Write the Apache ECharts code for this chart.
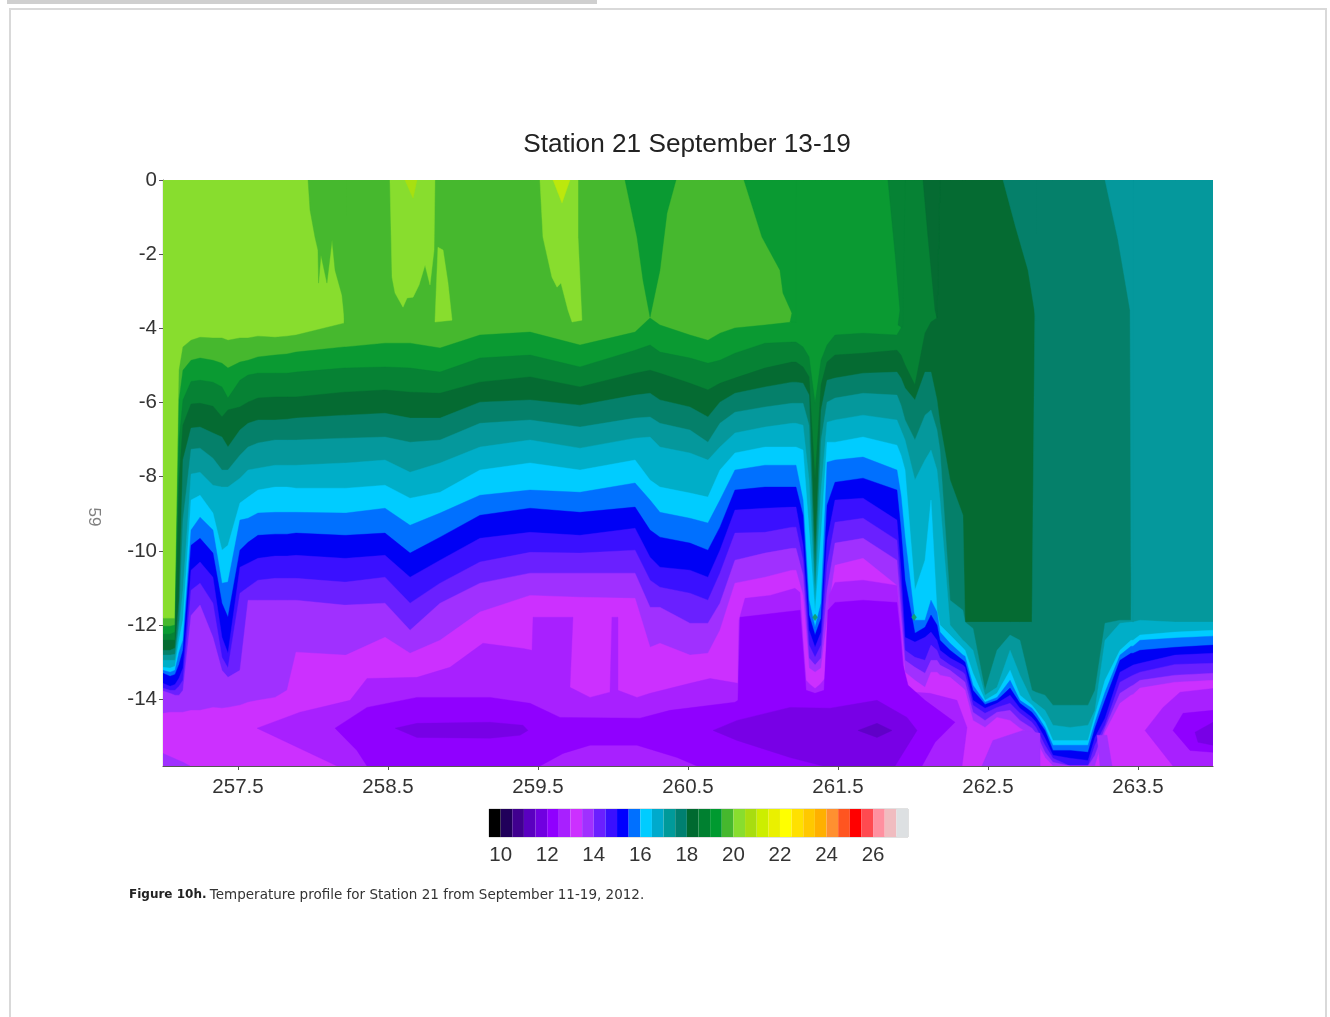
<!DOCTYPE html>
<html><head><meta charset="utf-8"><title>Station 21 temperature profile</title>
<style>html,body{margin:0;padding:0;background:#fff}#c{width:1330px;height:1017px;filter:blur(0.55px)}</style>
<script src="https://cdn.jsdelivr.net/npm/echarts@6/dist/echarts.min.js"></script>
</head><body><div id="c"></div>
<script>
const titleText = 'Station 21 September 13-19';
const xTicks = [257.5,258.5,259.5,260.5,261.5,262.5,263.5];
const yTicks = [0,-2,-4,-6,-8,-10,-12,-14];
const barTicks = [10,12,14,16,18,20,22,24,26];
const barColors = ['#000000','#20005a','#40008f','#5a00c0','#7000e0','#9000ff','#a820ff','#cc30ff','#a030ff','#6a20ff','#3a10ff','#0000ff','#0070ff','#00ccff','#00aacc','#009a9a','#008070','#006a30','#008030','#009a30','#46b82e','#88dd2e','#a8dd10','#ccee00','#eaf000','#ffff00','#ffe000','#ffc800','#ffb000','#ff9030','#ff5520','#ff0000','#ff4a50','#ff90a0','#f0bcc0','#dde0e2'];
const bandColors = {A:'#88dd2e',B:'#46b82e',C:'#0a9a32',D:'#068234',E:'#056b32',F:'#05806a',G:'#05989c',H:'#00aec8',I:'#00ccff',J:'#0070ff',K:'#0000f5',L:'#3a10ff',M:'#6a20ff',N:'#a030ff',O:'#cc30ff',P:'#a820ff',Q:'#9000ff',R:'#7800e6',S:'#6000c8'};

// Day of year stations along the time axis
const days = [257,257.047,257.08,257.107,257.133,257.187,257.247,257.333,257.393,257.433,
257.513,257.567,257.633,257.747,257.827,257.887,258.207,258.22,258.48,258.647,
258.847,259.113,259.447,259.78,260.147,260.247,260.313,260.513,260.633,260.713,
260.813,261.013,261.193,261.22,261.267,261.307,261.347,261.387,261.427,261.48,
261.667,261.893,261.92,261.947,262.013,262.08,262.12,262.16,262.18,262.247,
262.333,262.347,262.4,262.48,262.56,262.647,262.713,262.793,262.82,262.88,
262.933,263.047,263.167,263.213,263.28,263.38,263.453,263.467,263.513,263.747,264];

// Depth of the top of each colour band at every station
const topB = [-11.82,-11.82,-11.82,-5.13,-4.50,-4.32,-4.24,-4.26,-4.26,-4.32,
-4.26,-4.26,-4.21,-4.24,-4.21,-4.18,-3.86,0,0,0,
0,0,0,0,0,0,0,0,0,0,
0,0,0,0,0,0,0,0,0,0,
0,0,0,0,0,0,0,0,0,0,
0,0,0,0,0,0,0,0,0,0,
0,0,0,0,0,0,0,0,0,0,0];
const topC = [-12.03,-12.03,-12.00,-5.93,-5.13,-4.86,-4.80,-4.86,-4.94,-5.07,
-4.91,-4.86,-4.77,-4.72,-4.69,-4.64,-4.50,-4.50,-4.40,-4.40,
-4.53,-4.18,-4.10,-4.45,-4.10,-3.72,-3.91,-4.18,-4.32,-4.13,
-3.99,-3.91,-3.83,0,0,0,0,0,0,0,
0,0,0,0,0,0,0,0,0,0,
0,0,0,0,0,0,0,0,0,0,
0,0,0,0,0,0,0,0,0,0,0];
const topD = [-12.25,-12.25,-12.19,-7.01,-5.93,-5.43,-5.40,-5.45,-5.58,-5.88,
-5.40,-5.26,-5.21,-5.21,-5.21,-5.18,-5.07,-5.07,-5.04,-5.07,
-5.18,-4.80,-4.72,-5.04,-4.59,-4.45,-4.64,-4.80,-4.94,-4.86,
-4.67,-4.40,-4.37,-4.37,-4.50,-4.77,-6.02,-4.86,-4.45,-4.18,
-4.13,-4.18,-3.99,0,0,0,0,0,0,0,
0,0,0,0,0,0,0,0,0,0,
0,0,0,0,0,0,0,0,0,0,0];
const topE = [-12.41,-12.41,-12.41,-8.09,-6.61,-6.04,-6.02,-6.10,-6.39,-6.20,
-6.12,-5.99,-5.88,-5.85,-5.85,-5.85,-5.72,-5.72,-5.66,-5.72,
-5.75,-5.45,-5.31,-5.58,-5.21,-5.13,-5.21,-5.48,-5.66,-5.48,
-5.34,-5.07,-4.91,-4.91,-5.04,-5.31,-8.09,-5.53,-4.91,-4.72,
-4.67,-4.59,-4.72,-4.99,-5.53,-4.13,-3.83,-3.72,0,0,
0,0,0,0,0,0,0,0,0,0,
0,0,0,0,0,0,0,0,0,0,0];
const topF = [-12.68,-12.68,-12.62,-11.33,-7.55,-6.69,-6.66,-6.82,-6.93,-7.20,
-6.74,-6.56,-6.47,-6.47,-6.45,-6.42,-6.34,-6.34,-6.29,-6.42,
-6.42,-5.99,-5.93,-6.07,-5.80,-5.75,-5.93,-6.12,-6.39,-5.99,
-5.75,-5.58,-5.45,-5.45,-5.48,-5.80,-10.25,-6.20,-5.40,-5.34,
-5.21,-5.18,-5.34,-5.61,-5.93,-5.18,-5.18,-5.93,-6.56,-8.09,
-9.04,-11.92,-11.92,-11.92,-11.92,-11.92,-11.92,-11.92,0,0,
0,0,0,0,0,0,0,0,0,0,0];
const topG = [-12.81,-12.81,-12.79,-11.87,-9.17,-7.26,-7.23,-7.50,-7.82,-7.82,
-7.42,-7.20,-7.09,-7.01,-7.01,-7.01,-6.96,-6.96,-6.93,-7.07,
-7.01,-6.56,-6.47,-6.66,-6.42,-6.39,-6.56,-6.74,-7.07,-6.56,
-6.26,-6.12,-6.02,-6.02,-6.02,-6.61,-11.06,-7.01,-5.99,-5.88,
-5.75,-5.80,-6.07,-6.47,-7.01,-6.34,-6.20,-6.74,-7.28,-11.33,
-11.60,-11.92,-12.09,-13.76,-12.68,-12.27,-12.41,-13.76,-13.81,-13.89,
-14.16,-14.16,-14.16,-13.76,-11.95,-11.87,-11.87,0,0,0,0];
const topH = [-12.95,-12.95,-12.95,-12.09,-11.06,-7.93,-7.88,-8.23,-8.28,-8.28,
-8.04,-7.82,-7.77,-7.69,-7.69,-7.69,-7.63,-7.63,-7.55,-7.88,
-7.63,-7.20,-7.01,-7.23,-6.96,-6.93,-7.20,-7.36,-7.55,-7.20,
-6.82,-6.66,-6.56,-6.56,-6.61,-8.09,-11.33,-8.36,-6.53,-6.47,
-6.34,-6.47,-6.74,-7.01,-8.09,-7.55,-7.28,-7.82,-8.63,-12.00,
-12.41,-12.46,-12.68,-13.89,-13.68,-12.68,-13.35,-14.03,-14.11,-14.30,
-14.70,-14.76,-14.70,-14.30,-12.41,-11.95,-11.92,-11.92,-11.87,-11.92,-11.92];
const topI = [-13.14,-13.16,-13.11,-12.41,-11.87,-8.63,-8.50,-8.98,-9.98,-9.85,
-8.71,-8.55,-8.36,-8.28,-8.28,-8.31,-8.31,-8.31,-8.23,-8.58,
-8.42,-7.82,-7.63,-7.82,-7.55,-8.09,-8.28,-8.44,-8.55,-7.82,
-7.36,-7.20,-7.20,-7.20,-7.28,-9.44,-11.65,-9.58,-7.07,-7.07,
-6.93,-7.15,-7.42,-7.82,-11.06,-10.25,-8.63,-11.60,-12.00,-12.27,
-12.62,-12.68,-13.30,-14.03,-13.84,-13.22,-13.89,-14.16,-14.30,-14.62,
-15.11,-15.11,-15.11,-14.43,-13.49,-12.68,-12.41,-12.41,-12.27,-12.19,-12.14];
const topJ = [-13.22,-13.27,-13.22,-12.73,-12.41,-9.44,-9.09,-9.44,-10.87,-10.84,
-9.17,-9.12,-8.98,-8.96,-8.96,-8.96,-8.98,-8.98,-8.85,-9.31,
-8.98,-8.50,-8.36,-8.42,-8.17,-8.63,-8.96,-9.12,-9.25,-8.63,
-7.82,-7.69,-7.69,-7.69,-8.63,-11.33,-12.06,-11.41,-7.61,-7.55,
-7.47,-7.82,-8.50,-9.63,-11.87,-11.87,-11.33,-11.65,-12.19,-12.49,
-12.81,-12.84,-13.62,-14.08,-13.95,-13.49,-14.03,-14.24,-14.38,-14.76,
-15.24,-15.24,-15.24,-14.62,-13.81,-12.81,-12.57,-12.57,-12.41,-12.35,-12.30];
const topK = [-13.30,-13.38,-13.33,-13.06,-12.68,-9.85,-9.66,-10.06,-11.41,-11.79,
-9.98,-9.77,-9.58,-9.55,-9.55,-9.52,-9.58,-9.58,-9.52,-10.06,
-9.63,-9.04,-8.85,-8.96,-8.82,-9.44,-9.63,-9.79,-9.98,-9.36,
-8.36,-8.28,-8.28,-8.28,-9.04,-11.73,-12.27,-11.82,-8.77,-8.15,
-8.04,-8.36,-9.44,-10.79,-12.22,-12.06,-11.73,-12.00,-12.41,-12.68,
-12.95,-13.00,-13.76,-14.14,-14.03,-13.70,-14.11,-14.35,-14.49,-14.84,
-15.38,-15.38,-15.43,-14.78,-14.03,-12.95,-12.76,-12.76,-12.68,-12.60,-12.54];
const topL = [-13.57,-13.65,-13.60,-13.43,-13.16,-10.52,-10.30,-10.71,-12.33,-12.76,
-10.44,-10.33,-10.20,-10.14,-10.14,-10.12,-10.20,-10.20,-10.12,-10.71,
-10.25,-9.66,-9.50,-9.58,-9.39,-10.17,-10.44,-10.52,-10.71,-9.98,
-8.90,-8.85,-8.82,-8.82,-9.85,-12.14,-12.60,-12.19,-9.71,-8.63,
-8.58,-9.17,-10.52,-12.33,-12.46,-12.33,-12.19,-12.41,-12.68,-12.89,
-13.08,-13.14,-14.03,-14.24,-14.11,-13.89,-14.24,-14.49,-14.62,-15.05,
-15.51,-15.59,-15.65,-15.03,-14.51,-13.27,-13.11,-13.08,-13.03,-12.81,-12.76];
const topM = [-13.70,-13.76,-13.76,-13.65,-13.49,-11.06,-10.87,-11.41,-12.87,-13.16,
-11.14,-10.98,-10.79,-10.74,-10.74,-10.74,-10.84,-10.84,-10.71,-11.41,
-10.87,-10.30,-10.04,-10.06,-9.98,-10.79,-10.98,-11.14,-11.33,-10.60,
-9.52,-9.50,-9.36,-9.36,-10.25,-12.54,-12.87,-12.54,-10.39,-9.23,
-9.12,-9.71,-11.06,-12.68,-12.87,-12.95,-12.54,-12.68,-12.89,-13.08,
-13.27,-13.33,-14.16,-14.38,-14.22,-14.11,-14.38,-14.62,-14.76,-15.24,
-15.59,-15.8,-15.8,-15.24,-14.70,-13.54,-13.38,-13.35,-13.27,-13.06,-13.03];
const topN = [-13.78,-13.84,-13.89,-13.89,-13.76,-11.74,-11.46,-12.33,-13.22,-13.41,
-13.22,-11.33,-11.33,-11.33,-11.33,-11.33,-11.46,-11.46,-11.41,-12.14,
-11.41,-10.87,-10.60,-10.60,-10.60,-11.52,-11.52,-11.95,-11.95,-11.41,
-10.25,-10.06,-9.93,-9.93,-10.66,-12.89,-13.08,-12.89,-11.06,-9.79,
-9.66,-10.25,-11.60,-12.95,-13.14,-13.30,-12.95,-12.95,-13.08,-13.22,
-13.49,-13.54,-14.35,-14.57,-14.35,-14.30,-14.57,-14.78,-14.92,-15.43,
-15.70,-15.8,-15.8,-15.51,-14.78,-13.84,-13.65,-13.62,-13.49,-13.35,-13.30];
const topO = [-14.38,-14.35,-14.35,-14.35,-14.35,-14.30,-14.30,-14.22,-14.24,-14.22,
-14.16,-14.08,-14.03,-13.95,-13.76,-12.73,-12.81,-12.81,-12.33,-12.76,
-12.41,-11.65,-11.20,-11.25,-11.28,-12.60,-12.49,-12.81,-12.76,-12.14,
-10.87,-10.71,-10.52,-10.52,-11.20,-13.16,-13.27,-13.16,-11.87,-10.39,
-10.20,-10.93,-12.00,-13.27,-13.49,-13.68,-13.27,-13.27,-13.35,-13.41,
-13.70,-13.76,-14.57,-14.76,-14.49,-14.57,-14.78,-14.97,-15.11,-15.57,
-15.8,-15.8,-15.8,-15.8,-14.89,-14.11,-13.89,-13.87,-13.70,-13.54,-13.49];

// Closed regions of the temperature field, [day, depth]
const regionB = [[257.967,0],[257.98,-0.81],[258.013,-1.54],[258.033,-1.89],[258.037,-2.78],[258.053,-2.02],[258.093,-2.78],[258.127,-1.62],[258.147,-2.43],[258.193,-3.10],[258.213,-3.86],[258.22,-3.86],[258.22,0]];
const regionA1 = [[258.513,0],[258.527,-2.62],[258.547,-3.05],[258.6,-3.43],[258.627,-3.18],[258.667,-3.16],[258.707,-2.83],[258.747,-2.29],[258.78,-2.83],[258.807,-1.89],[258.813,0]];
const regionA2 = [[258.833,-1.81],[258.867,-1.89],[258.9,-2.78],[258.927,-3.78],[258.813,-3.83]];
const regionA3 = [[259.513,0],[259.533,-1.54],[259.593,-2.62],[259.627,-2.89],[259.653,-2.78],[259.7,-3.51],[259.727,-3.83],[259.793,-3.78],[259.767,-1.54],[259.767,0]];
const regionY1 = [[258.613,0],[258.667,-0.49],[258.693,0]];
const regionY2 = [[259.6,0],[259.66,-0.62],[259.713,0]];
const regionC1 = [[260.08,0],[260.16,-1.54],[260.2,-2.70],[260.247,-3.70],[260.313,-2.43],[260.36,-0.89],[260.42,0]];
const regionC2 = [[260.873,0],[260.993,-1.54],[261.113,-2.43],[261.133,-3.05],[261.193,-3.59],[261.18,-3.83],[261.22,-3.83],[261.22,0]];
const regionD = [[261.833,0],[261.88,-1.97],[261.913,-3.51],[261.9,-3.91],[261.933,-3.99],[261.947,0]];
const regionE = [[262.067,0],[262.1,-1.54],[262.147,-3.51],[262.16,-3.72],[262.18,0]];
const regionF = [[262.6,0],[262.68,-1.21],[262.767,-2.43],[262.82,-3.78],[262.82,0]];
const regionG = [[263.28,0],[263.367,-1.62],[263.447,-3.51],[263.453,-10.25],[263.467,-11.92],[263.467,0]];
const regionP = [[257.627,-14.78],[257.913,-14.35],[258.247,-14.03],[258.36,-13.44],[258.693,-13.41],[258.913,-13.14],[259.133,-12.49],[259.4,-12.63],[259.46,-12.68],[259.467,-11.79],[259.733,-11.79],[259.713,-13.68],[259.847,-13.95],[259.98,-13.81],[259.993,-11.79],[260.033,-11.79],[260.033,-13.76],[260.16,-13.95],[260.247,-13.84],[260.513,-13.57],[260.647,-13.44],[260.833,-13.57],[260.84,-11.87],[260.88,-11.28],[261.047,-11.20],[261.213,-11.01],[261.247,-11.12],[261.267,-12.41],[261.287,-13.49],[261.313,-13.60],[261.347,-13.71],[261.38,-13.60],[261.413,-13.44],[261.427,-12.41],[261.44,-11.20],[261.48,-10.85],[261.667,-10.79],[261.893,-10.93],[261.92,-12.14],[261.947,-13.57],[262.013,-13.81],[262.113,-13.84],[262.293,-14.03],[262.36,-14.76],[262.327,-15.8],[258.16,-15.8]];
const regionQ = [[258.147,-14.78],[258.36,-14.22],[258.693,-13.95],[259.18,-13.95],[259.447,-14.11],[259.647,-14.49],[260.18,-14.51],[260.38,-14.30],[260.813,-14.08],[260.833,-14.03],[260.847,-11.79],[261.247,-11.60],[261.267,-12.68],[261.287,-13.76],[261.347,-13.84],[261.407,-13.76],[261.433,-11.60],[261.48,-11.39],[261.667,-11.33],[261.893,-11.39],[261.913,-12.14],[261.933,-13.08],[261.967,-13.62],[262.08,-14.03],[262.28,-14.62],[262.147,-15.16],[262.06,-15.8],[260.56,-15.8],[260.427,-15.57],[260.16,-15.24],[259.847,-15.24],[259.667,-15.46],[259.513,-15.8],[258.36,-15.8],[258.293,-15.38]];
const regionR1 = [[258.547,-14.78],[258.693,-14.65],[259.18,-14.62],[259.4,-14.70],[259.433,-14.84],[259.38,-14.97],[259.18,-15.05],[258.693,-15.03]];
const regionR2 = [[260.667,-14.84],[260.827,-14.57],[261.18,-14.22],[261.447,-14.24],[261.76,-14.03],[261.96,-14.49],[262.027,-14.84],[261.88,-15.8],[261.4,-15.8],[261.18,-15.57],[260.827,-15.11]];
const regionS = [[261.633,-14.84],[261.76,-14.65],[261.86,-14.84],[261.76,-15.03]];
const regionN1 = [[257,-15.46],[257.133,-15.70],[257.18,-15.8],[257,-15.8]];
const regionN2 = [[262.46,-15.8],[262.533,-15.11],[262.733,-14.84],[262.847,-14.92],[262.847,-15.8]];
const regionN3 = [[263.227,-14.97],[263.293,-14.97],[263.327,-15.8],[263.247,-15.8]];
const regionP2 = [[263.547,-14.84],[263.667,-14.22],[263.78,-13.81],[264,-13.71],[264,-15.8],[263.733,-15.8]];
const regionQ2 = [[263.733,-14.84],[263.8,-14.38],[264,-14.30],[264,-15.43],[263.847,-15.38]];
const regionR3 = [[263.88,-14.89],[264,-14.62],[264,-15.24],[263.9,-15.16]];
const regionDot1 = [[261.33,-11.79],[261.347,-11.70],[261.364,-11.79],[261.347,-11.88]];
const regionDot2 = [[261.99,-11.79],[262.007,-11.70],[262.024,-11.79],[262.007,-11.88]];

const yMin = -15.8, yMax = 0;
const bandTops = [['B',topB],['C',topC],['D',topD],['E',topE],['F',topF],['G',topG],['H',topH],['I',topI],['J',topJ],['K',topK],['L',topL],['M',topM],['N',topN],['O',topO]];
const layers = [];
layers.push({color:bandColors.A, points:[[257,yMax],[264,yMax],[264,yMin],[257,yMin]]});
bandTops.forEach(function(b){
  const pts = days.map(function(t,i){return [t,b[1][i]];});
  pts.push([264,yMin],[257,yMin]);
  layers.push({color:bandColors[b[0]], points:pts});
});
[[bandColors.B,regionB],[bandColors.A,regionA1],[bandColors.A,regionA2],[bandColors.A,regionA3],['#a8e010',regionY1],['#bce80c',regionY2],
 [bandColors.C,regionC1],[bandColors.C,regionC2],[bandColors.D,regionD],[bandColors.E,regionE],[bandColors.F,regionF],[bandColors.G,regionG],
 [bandColors.P,regionP],[bandColors.Q,regionQ],[bandColors.R,regionR1],[bandColors.R,regionR2],[bandColors.S,regionS],
 [bandColors.N,regionN1],[bandColors.N,regionN2],[bandColors.N,regionN3],[bandColors.P,regionP2],[bandColors.Q,regionQ2],[bandColors.R,regionR3],
 ['#10a078',regionDot1],['#10a078',regionDot2]].forEach(function(r){layers.push({color:r[0],points:r[1]});});

const sans = '"Liberation Sans", Arial, sans-serif';
const chart = echarts.init(document.getElementById('c'), null, {renderer:'canvas', width:1330, height:1017});
chart.setOption({
  animation:false,
  backgroundColor:'#fff',
  title:{text:titleText,left:682,top:127,textAlign:'center',textStyle:{fontFamily:'"Liberation Sans"',fontSize:26.2,fontWeight:'normal',color:'#222'}},
  grid:[
    {left:163,top:180,width:1050,height:586},
    {left:489,top:809,width:419,height:28,show:true,borderColor:'#c4c4c4',borderWidth:1}
  ],
  xAxis:[
    {type:'value',gridIndex:0,min:257,max:264,position:'bottom',splitLine:{show:false},
     axisLine:{onZero:false,lineStyle:{color:'#555',width:1.2}},
     axisTick:{length:4,lineStyle:{color:'#555'},customValues:xTicks},
     axisLabel:{customValues:xTicks,fontFamily:sans,fontSize:20.5,color:'#333',margin:11,formatter:function(v){return v.toFixed(1);}}},
    {type:'value',gridIndex:1,min:9.5,max:27.5,splitLine:{show:false},axisLine:{show:false},axisTick:{show:false},
     axisLabel:{customValues:barTicks,fontFamily:sans,fontSize:20.5,color:'#333',margin:8}}
  ],
  yAxis:[
    {type:'value',gridIndex:0,min:yMin,max:yMax,position:'left',splitLine:{show:false},
     axisLine:{onZero:false,lineStyle:{color:'#555',width:1.2}},
     axisTick:{length:4,lineStyle:{color:'#555'},customValues:yTicks},
     axisLabel:{customValues:yTicks,fontFamily:sans,fontSize:20.5,color:'#333',margin:6}},
    {type:'value',gridIndex:1,min:0,max:1,show:false}
  ],
  graphic:[
    {type:'rect',silent:true,z:-1,shape:{x:7,y:0,width:590,height:4},style:{fill:'#cfcfcf'}},
    {type:'rect',silent:true,z:-1,shape:{x:9,y:8,width:2,height:1009},style:{fill:'#d9d9d9'}},
    {type:'rect',silent:true,z:-1,shape:{x:9,y:8,width:1318,height:2},style:{fill:'#d9d9d9'}},
    {type:'rect',silent:true,z:-1,shape:{x:1325,y:8,width:2,height:1009},style:{fill:'#d9d9d9'}},
    {type:'text',silent:true,x:94,y:517,rotation:-Math.PI/2,style:{text:'59',fontFamily:sans,fontSize:17,fill:'#808080',align:'center',verticalAlign:'middle'}},
    {type:'text',silent:true,x:129,y:895,style:{text:'{b|Figure 10h.} {n|Temperature profile for Station 21 from September 11-19, 2012.}',verticalAlign:'middle',align:'left',
      rich:{b:{fontFamily:'"DejaVu Sans"',fontSize:12,fontWeight:'bold',fill:'#222'},n:{fontFamily:'"DejaVu Sans"',fontSize:13.5,fill:'#333'}}}}
  ],
  series:[
    {type:'custom',name:'Temperature',xAxisIndex:0,yAxisIndex:0,clip:true,silent:true,
     data:layers.map(function(l,i){return [l.points[0][0],l.points[0][1],i];}),
     renderItem:function(params,api){
       const l = layers[api.value(2)];
       return {type:'polygon',shape:{points:l.points.map(function(p){return api.coord(p);})},style:{fill:l.color,stroke:l.color,lineWidth:0.4}};
     }},
    {type:'custom',name:'Colour scale',xAxisIndex:1,yAxisIndex:1,silent:true,
     data:barColors.map(function(c,i){return [9.5+i*0.5,10+i*0.5,i];}),
     renderItem:function(params,api){
       const a = api.coord([api.value(0),1]), b = api.coord([api.value(1),0]);
       return {type:'rect',shape:{x:a[0],y:a[1],width:b[0]-a[0],height:b[1]-a[1]},style:{fill:barColors[api.value(2)]}};
     }}
  ]
});
</script></body></html>
